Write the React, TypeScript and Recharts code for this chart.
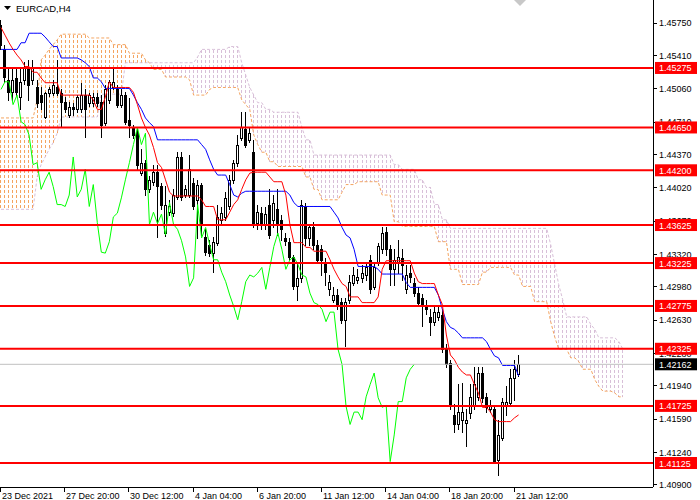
import React from 'react';
import { ComposedChart, Bar, Line, XAxis, YAxis, ReferenceLine } from 'recharts';

const symbolTitle = 'EURCAD,H4';
const dateLabels = ['23 Dec 2021', '27 Dec 20:00', '30 Dec 12:00', '4 Jan 04:00', '6 Jan 20:00', '11 Jan 12:00', '14 Jan 04:00', '18 Jan 20:00', '21 Jan 12:00'];
const labelBars = [0, 16, 32, 48, 64, 80, 96, 112, 128];
const priceTicks = [1.4575, 1.4541, 1.4506, 1.4471, 1.4437, 1.4402, 1.4367, 1.4332, 1.4298, 1.4263, 1.4228, 1.4194, 1.4159, 1.4124, 1.409];
const levels = [1.45275, 1.4465, 1.442, 1.43625, 1.43225, 1.42775, 1.42325, 1.41725, 1.41125];
const lastPrice = 1.42162;
const priceDomain = [1.40873, 1.45989];
const SHIFT = 26;
const TOTAL_SLOTS = 163;

const open = [1.4573,1.4547,1.4515,1.4502,1.4517,1.4497,1.4515,1.4528,1.4515,1.4507,
1.4499,1.4476,1.4501,1.4501,1.4508,1.4501,1.4492,1.4478,1.4487,1.4484,
1.4484,1.4499,1.4491,1.4491,1.4497,1.4492,1.4470,1.4494,1.4508,1.4505,
1.4489,1.4499,1.4473,1.4465,1.4460,1.4417,1.4428,1.4400,1.4408,1.4418,
1.4403,1.4354,1.4376,1.4375,1.4392,1.4434,1.4394,1.4394,1.4407,1.4389,
1.4405,1.4350,1.4342,1.4333,1.4344,1.4368,1.4371,1.4382,1.4410,1.4428,
1.4454,1.4463,1.4452,1.4439,1.4365,1.4375,1.4364,1.4384,1.4368,1.4379,
1.4368,1.4349,1.4345,1.4329,1.4298,1.4307,1.4381,1.4349,1.4360,1.4342,
1.4337,1.4324,1.4295,1.4284,1.4289,1.4282,1.4263,1.4284,1.4302,1.4305,
1.4307,1.4310,1.4326,1.4297,1.4324,1.4337,1.4355,1.4337,1.4316,1.4324,
1.4328,1.4295,1.4312,1.4302,1.4291,1.4286,1.4279,1.4266,1.4261,1.4266,
1.4268,1.4232,1.4218,1.4163,1.4153,1.4158,1.4155,1.4165,1.4172,1.4182,
1.4207,1.4182,1.4169,1.4169,1.4116,1.4139,1.4172,1.4176,1.4202,1.4206];

const high = [1.4578,1.4552,1.4526,1.4528,1.4526,1.4529,1.4534,1.4536,1.4536,1.4515,
1.4507,1.4502,1.4507,1.4515,1.4536,1.4505,1.4497,1.4492,1.4491,1.4499,
1.4512,1.4505,1.4501,1.4501,1.4501,1.4499,1.4510,1.4515,1.4526,1.4510,
1.4505,1.4502,1.4496,1.4468,1.4463,1.4442,1.4431,1.4414,1.4426,1.4426,
1.4407,1.4403,1.4389,1.4400,1.4439,1.4439,1.4405,1.4436,1.4412,1.4410,
1.4407,1.4358,1.4347,1.4350,1.4384,1.4381,1.4397,1.4415,1.4431,1.4457,
1.4481,1.4481,1.4466,1.4452,1.4384,1.4381,1.4381,1.4400,1.4394,1.4400,
1.4373,1.4354,1.4349,1.4331,1.4324,1.4389,1.4386,1.4363,1.4366,1.4347,
1.4342,1.4328,1.4310,1.4297,1.4295,1.4286,1.4286,1.4310,1.4318,1.4316,
1.4321,1.4324,1.4331,1.4324,1.4344,1.4360,1.4360,1.4342,1.4337,1.4347,
1.4337,1.4321,1.4321,1.4307,1.4297,1.4290,1.4284,1.4274,1.4276,1.4276,
1.4274,1.4237,1.4221,1.4174,1.4195,1.4197,1.4169,1.4195,1.4213,1.4213,
1.4213,1.4186,1.4179,1.4171,1.4158,1.4181,1.4193,1.4211,1.4221,1.4226];

const low = [1.4547,1.4513,1.4494,1.4494,1.4499,1.4484,1.4511,1.4494,1.4511,1.4487,
1.4484,1.4475,1.4498,1.4499,1.4499,1.4466,1.4481,1.4476,1.4478,1.4481,
1.4481,1.4455,1.4488,1.4488,1.4488,1.4455,1.4468,1.4491,1.4505,1.4486,
1.4487,1.4469,1.4455,1.4454,1.4421,1.4415,1.4394,1.4397,1.4405,1.4350,
1.4379,1.4351,1.4373,1.4372,1.4390,1.4389,1.4392,1.4392,1.4379,1.4349,
1.4352,1.4331,1.4330,1.4313,1.4341,1.4363,1.4368,1.4379,1.4407,1.4425,
1.4452,1.4444,1.4450,1.4360,1.4358,1.4358,1.4358,1.4349,1.4360,1.4352,
1.4347,1.4342,1.4326,1.4295,1.4284,1.4303,1.4342,1.4342,1.4337,1.4323,
1.4310,1.4300,1.4289,1.4282,1.4274,1.4260,1.4235,1.4281,1.4299,1.4302,
1.4303,1.4305,1.4291,1.4295,1.4321,1.4333,1.4331,1.4300,1.4300,1.4312,
1.4305,1.4291,1.4303,1.4288,1.4278,1.4256,1.4269,1.4247,1.4258,1.4263,
1.4229,1.4213,1.4169,1.4145,1.4148,1.4145,1.4130,1.4160,1.4169,1.4179,
1.4177,1.4166,1.4166,1.4112,1.4100,1.4137,1.4163,1.4174,1.4179,1.4204];

const close = [1.4552,1.4518,1.4502,1.4515,1.4502,1.4513,1.4528,1.4510,1.4529,1.4491,
1.4492,1.4501,1.4505,1.4510,1.4501,1.4492,1.4484,1.4487,1.4484,1.4497,
1.4499,1.4484,1.4499,1.4497,1.4491,1.4468,1.4505,1.4513,1.4513,1.4489,
1.4499,1.4471,1.4468,1.4457,1.4426,1.4428,1.4400,1.4410,1.4418,1.4403,
1.4384,1.4384,1.4382,1.4394,1.4434,1.4392,1.4400,1.4421,1.4382,1.4405,
1.4365,1.4334,1.4333,1.4345,1.4371,1.4375,1.4391,1.4410,1.4428,1.4447,
1.4465,1.4447,1.4459,1.4363,1.4376,1.4364,1.4374,1.4352,1.4386,1.4363,
1.4358,1.4346,1.4329,1.4298,1.4307,1.4384,1.4349,1.4360,1.4342,1.4326,
1.4326,1.4313,1.4303,1.4289,1.4277,1.4263,1.4282,1.4303,1.4310,1.4308,
1.4312,1.4318,1.4295,1.4318,1.4340,1.4354,1.4337,1.4316,1.4326,1.4329,
1.4321,1.4310,1.4308,1.4291,1.4281,1.4279,1.4274,1.4261,1.4271,1.4271,
1.4232,1.4216,1.4172,1.4153,1.4166,1.4166,1.4158,1.4182,1.4195,1.4207,
1.4181,1.4171,1.4173,1.4114,1.4142,1.4177,1.4177,1.4202,1.4211,1.42162];

const tenkan = [1.4570,1.4562,1.4554,1.4547,1.4541,1.4536,1.4529,1.4529,1.4523,1.4523,
1.4517,1.4512,1.4512,1.4512,1.4512,1.4499,1.4499,1.4499,1.4499,1.4499,
1.4499,1.4499,1.4499,1.4494,1.4484,1.4484,1.4497,1.4513,1.4507,1.4507,
1.4507,1.4507,1.4507,1.4502,1.4489,1.4475,1.4465,1.4457,1.4444,1.4428,
1.4423,1.4410,1.4397,1.4393,1.4393,1.4393,1.4393,1.4393,1.4393,1.4393,
1.4389,1.4382,1.4382,1.4382,1.4368,1.4368,1.4368,1.4376,1.4384,1.4389,
1.4400,1.4410,1.4417,1.4418,1.4418,1.4418,1.4418,1.4413,1.4408,1.4408,
1.4408,1.4394,1.4363,1.4344,1.4344,1.4344,1.4339,1.4339,1.4335,1.4335,
1.4335,1.4335,1.4326,1.4316,1.4308,1.4301,1.4298,1.4287,1.4287,1.4287,
1.4281,1.4281,1.4281,1.4281,1.4287,1.4316,1.4325,1.4325,1.4325,1.4325,
1.4325,1.4325,1.4325,1.4312,1.4303,1.4301,1.4301,1.4301,1.4301,1.4289,
1.4279,1.4247,1.4226,1.4221,1.4213,1.4208,1.4205,1.4205,1.4195,1.4186,
1.4171,1.4171,1.4166,1.4158,1.4156,1.4156,1.4156,1.4156,1.4160,1.4163];

const kijun = [1.4547,1.4547,1.4547,1.4547,1.4547,1.4554,1.4554,1.4564,1.4564,1.4564,
1.4564,1.4560,1.4555,1.4550,1.4550,1.4538,1.4538,1.4538,1.4538,1.4538,
1.4536,1.4533,1.4529,1.4517,1.4517,1.4513,1.4506,1.4506,1.4506,1.4506,
1.4506,1.4506,1.4506,1.4499,1.4491,1.4484,1.4475,1.4470,1.4466,1.4452,
1.4452,1.4452,1.4452,1.4452,1.4452,1.4452,1.4452,1.4452,1.4452,1.4452,
1.4447,1.4442,1.4431,1.4421,1.4415,1.4415,1.4415,1.4405,1.4394,1.4392,
1.4396,1.4398,1.4398,1.4398,1.4398,1.4398,1.4398,1.4398,1.4398,1.4398,
1.4398,1.4398,1.4394,1.4386,1.4382,1.4382,1.4382,1.4382,1.4382,1.4382,
1.4382,1.4382,1.4382,1.4376,1.4370,1.4360,1.4352,1.4349,1.4337,1.4319,
1.4319,1.4319,1.4319,1.4319,1.4316,1.4311,1.4311,1.4311,1.4311,1.4311,
1.4311,1.4302,1.4297,1.4297,1.4297,1.4297,1.4297,1.4297,1.4297,1.4289,
1.4274,1.4261,1.4255,1.4253,1.4249,1.4244,1.4244,1.4244,1.4244,1.4244,
1.4244,1.4240,1.4232,1.4225,1.4223,1.4215,1.4215,1.4215,1.4215,1.4204];

const spanA = [1.4475,1.4475,1.4475,1.4475,1.4475,1.4475,1.4475,1.4475,1.4475,1.4494,
1.4536,1.4541,1.4547,1.4552,1.4557,1.4563,1.4563,1.4563,1.4563,1.4563,
1.4563,1.4563,1.4559,1.4559,1.4559,1.4559,1.4559,1.4559,1.4552,1.4552,
1.4552,1.4552,1.4543,1.4543,1.4543,1.4543,1.4536,1.4533,1.4526,1.4526,
1.4526,1.4518,1.4518,1.4518,1.4518,1.4518,1.4518,1.4515,1.4499,1.4499,
1.4499,1.4499,1.4505,1.4507,1.4507,1.4507,1.4507,1.4507,1.4507,1.4507,
1.4494,1.4489,1.4484,1.4457,1.4447,1.4439,1.4439,1.4429,1.4429,1.4424,
1.4424,1.4424,1.4424,1.4424,1.4424,1.4424,1.4413,1.4413,1.4400,1.4400,
1.4389,1.4389,1.4389,1.4389,1.4389,1.4397,1.4405,1.4405,1.4405,1.4408,
1.4408,1.4408,1.4408,1.4408,1.4408,1.4394,1.4394,1.4394,1.4366,1.4366,
1.4361,1.4361,1.4361,1.4361,1.4361,1.4361,1.4361,1.4361,1.4361,1.4345,
1.4345,1.4345,1.4316,1.4316,1.4316,1.4300,1.4300,1.4300,1.4300,1.4300,
1.4313,1.4313,1.4318,1.4318,1.4318,1.4318,1.4318,1.4318,1.4310,1.4310,
1.4298,1.4298,1.4298,1.4282,1.4282,1.4282,1.4282,1.4261,1.4245,1.4232,
1.4232,1.4232,1.4223,1.4223,1.4219,1.4211,1.4211,1.4211,1.4200,1.4193,
1.4188,1.4188,1.4188,1.4186,1.4182,1.4182];

const spanB = [1.4379,1.4379,1.4379,1.4379,1.4379,1.4379,1.4379,1.4379,1.4379,1.4413,
1.4426,1.4434,1.4442,1.4449,1.4459,1.4476,1.4476,1.4476,1.4476,1.4476,
1.4476,1.4476,1.4476,1.4476,1.4476,1.4500,1.4500,1.4500,1.4500,1.4500,
1.4500,1.4533,1.4533,1.4533,1.4533,1.4533,1.4533,1.4533,1.4533,1.4533,
1.4533,1.4533,1.4533,1.4533,1.4533,1.4533,1.4533,1.4533,1.4533,1.4539,
1.4547,1.4547,1.4547,1.4547,1.4547,1.4547,1.4547,1.4550,1.4550,1.4550,
1.4533,1.4520,1.4507,1.4499,1.4491,1.4491,1.4484,1.4484,1.4481,1.4481,
1.4481,1.4481,1.4481,1.4481,1.4481,1.4465,1.4452,1.4452,1.4436,1.4436,
1.4436,1.4436,1.4436,1.4436,1.4436,1.4436,1.4436,1.4436,1.4436,1.4436,
1.4436,1.4436,1.4436,1.4436,1.4436,1.4436,1.4436,1.4436,1.4426,1.4426,
1.4421,1.4421,1.4421,1.4421,1.4410,1.4410,1.4402,1.4402,1.4384,1.4384,
1.4368,1.4368,1.4359,1.4359,1.4359,1.4359,1.4359,1.4359,1.4359,1.4359,
1.4359,1.4359,1.4359,1.4359,1.4359,1.4359,1.4359,1.4359,1.4359,1.4359,
1.4359,1.4359,1.4359,1.4359,1.4359,1.4359,1.4359,1.4342,1.4321,1.4300,
1.4284,1.4266,1.4266,1.4266,1.4266,1.4266,1.4266,1.4258,1.4253,1.4244,
1.4244,1.4244,1.4244,1.4244,1.4240,1.4232];

type Row = { [k: string]: any };
const data: Row[] = [];
for (let i = 0; i < TOTAL_SLOTS; i++) {
  const r: Row = { i };
  if (i < open.length) {
    r.o = open[i]; r.h = high[i]; r.l = low[i]; r.c = close[i];
    r.candle = [low[i], high[i]];
    r.tenkan = tenkan[i];
    r.kijun = kijun[i];
  }
  if (i + SHIFT < close.length) r.chikou = close[i + SHIFT];
  if (i < spanA.length) {
    r.spanA = spanA[i];
    r.spanB = spanB[i];
    r.cloud = [Math.min(spanA[i], spanB[i]), Math.max(spanA[i], spanB[i])];
    r.bull = spanA[i] >= spanB[i];
  }
  data.push(r);
}

const FONT = "'Liberation Sans', Arial, sans-serif";
const AXIS_X = 653;

const Candle = (props: any) => {
  const { x, y, width, height, payload } = props;
  if (!payload || payload.o == null || y == null || height == null || isNaN(y)) return <g />;
  const top = Math.min(y, y + height);
  const bot = Math.max(y, y + height);
  const span = payload.h - payload.l;
  const py = (v: number) => (span > 0 ? top + ((payload.h - v) / span) * (bot - top) : top);
  const cx = Math.floor(x + width / 2);
  const yo = py(payload.o);
  const yc = py(payload.c);
  const bTop = Math.round(Math.min(yo, yc));
  const bBot = Math.round(Math.max(yo, yc));
  const bull = payload.c > payload.o;
  const bh = Math.max(bBot - bTop, 1);
  return (
    <g shapeRendering="crispEdges">
      <line x1={cx + 0.5} x2={cx + 0.5} y1={Math.round(top)} y2={Math.round(bot) + 1} stroke="#000" strokeWidth={1} />
      {bull ? (
        <rect x={cx - 0.5} y={bTop + 0.5} width={2} height={bh} fill="#fff" stroke="#000" strokeWidth={1} />
      ) : (
        <rect x={cx - 1} y={bTop} width={3} height={bh + 1} fill="#000" />
      )}
    </g>
  );
};

const CloudStick = (props: any) => {
  const { x, y, width, height, payload } = props;
  if (!payload || payload.spanA == null || y == null || isNaN(y)) return <g />;
  const top = Math.round(Math.min(y, y + height));
  const bot = Math.round(Math.max(y, y + height));
  if (bot - top < 1) return <g />;
  const cx = Math.floor(x + width / 2) + 0.5;
  return (
    <line x1={cx} x2={cx} y1={top} y2={bot} stroke={payload.bull ? '#f4a460' : '#d8bfd8'} strokeWidth={1}
      strokeDasharray="3 2" strokeDashoffset={top % 5} shapeRendering="crispEdges" />
  );
};

const XTick = (props: any) => {
  const { x, payload } = props;
  const idx = labelBars.indexOf(payload.value);
  if (idx < 0) return <g />;
  const tx = Math.round(x - 1) + 0.5;
  return (
    <g>
      <line x1={tx} x2={tx} y1={487} y2={492} stroke="#000" shapeRendering="crispEdges" />
      <text x={tx + 1.5} y={499} fontSize={9} fontFamily={FONT} fill="#000" textAnchor="start">{dateLabels[idx]}</text>
    </g>
  );
};

const YTick = (props: any) => {
  const { y, payload } = props;
  const v = payload.value;
  const txt = Number(v).toFixed(5);
  if (levels.includes(v)) {
    return (
      <g>
        <rect x={655} y={y - 6} width={42} height={12} fill="#ff0000" />
        <text x={659} y={y + 3.5} fontSize={9} fontFamily={FONT} fill="#fff">{txt}</text>
      </g>
    );
  }
  if (v === lastPrice) {
    return (
      <g>
        <rect x={655} y={y - 6} width={42} height={12} fill="#000" />
        <text x={659} y={y + 3.5} fontSize={9} fontFamily={FONT} fill="#fff">{txt}</text>
      </g>
    );
  }
  return (
    <g>
      <line x1={AXIS_X} x2={AXIS_X + 4} y1={Math.round(y) + 0.5} y2={Math.round(y) + 0.5} stroke="#000" shapeRendering="crispEdges" />
      <text x={659} y={y + 3.5} fontSize={9} fontFamily={FONT} fill="#000">{txt}</text>
    </g>
  );
};

export default function App() {
  const yTicks = [...priceTicks, ...levels, lastPrice];
  return (
    <div style={{ position: 'absolute', left: 0, top: 0, width: 700, height: 500, background: '#fff', overflow: 'hidden' }}>
      <ComposedChart width={700} height={500} data={data} margin={{ top: 0, right: 0, bottom: 0, left: -1 }}>
        <XAxis dataKey="i" type="category" ticks={labelBars} interval={0} tick={<XTick />} tickLine={false}
          axisLine={{ stroke: '#000', shapeRendering: 'crispEdges' }} height={13} />
        <XAxis xAxisId="c" dataKey="i" type="category" hide />
        <YAxis orientation="right" type="number" domain={priceDomain} allowDataOverflow ticks={yTicks} interval={0}
          tick={<YTick />} tickLine={false} axisLine={{ stroke: '#000', shapeRendering: 'crispEdges' }} width={47} />
        <YAxis yAxisId="c" type="number" domain={priceDomain} allowDataOverflow hide />

        <Bar xAxisId="c" yAxisId="c" dataKey={(d: Row) => d.cloud} shape={<CloudStick />} isAnimationActive={false} zIndex={100} />
        <Line dataKey="spanA" stroke="#f4a460" strokeWidth={1} strokeDasharray="3 2" dot={false} activeDot={false} isAnimationActive={false} zIndex={150} />
        <Line dataKey="spanB" stroke="#d8bfd8" strokeWidth={1} strokeDasharray="3 2" dot={false} activeDot={false} isAnimationActive={false} zIndex={150} />

        <Bar dataKey={(d: Row) => d.candle} shape={<Candle />} isAnimationActive={false} zIndex={300} />

        <Line dataKey="chikou" stroke="#00ff00" strokeWidth={1} dot={false} activeDot={false} isAnimationActive={false} zIndex={400} />
        <Line dataKey="kijun" stroke="#0000ff" strokeWidth={1} dot={false} activeDot={false} isAnimationActive={false} zIndex={400} />
        <Line dataKey="tenkan" stroke="#ff0000" strokeWidth={1} dot={false} activeDot={false} isAnimationActive={false} zIndex={400} />

        <ReferenceLine y={lastPrice} stroke="#c0c0c0" strokeWidth={1} zIndex={450} />
        {levels.map((lv) => (
          <ReferenceLine key={lv} y={lv} stroke="#ff0000" strokeWidth={2} zIndex={600} />
        ))}
      </ComposedChart>
      <svg width={700} height={500} style={{ position: 'absolute', left: 0, top: 0, pointerEvents: 'none' }}>
        <polygon points="4,6 11,6 7.5,10" fill="#000" />
        <text x={16} y={12} fontSize={9.5} fontFamily={FONT} fill="#000">{symbolTitle}</text>
        <polygon points="514,0 526,0 520,6" fill="#c8c8c8" />
      </svg>
    </div>
  );
}
